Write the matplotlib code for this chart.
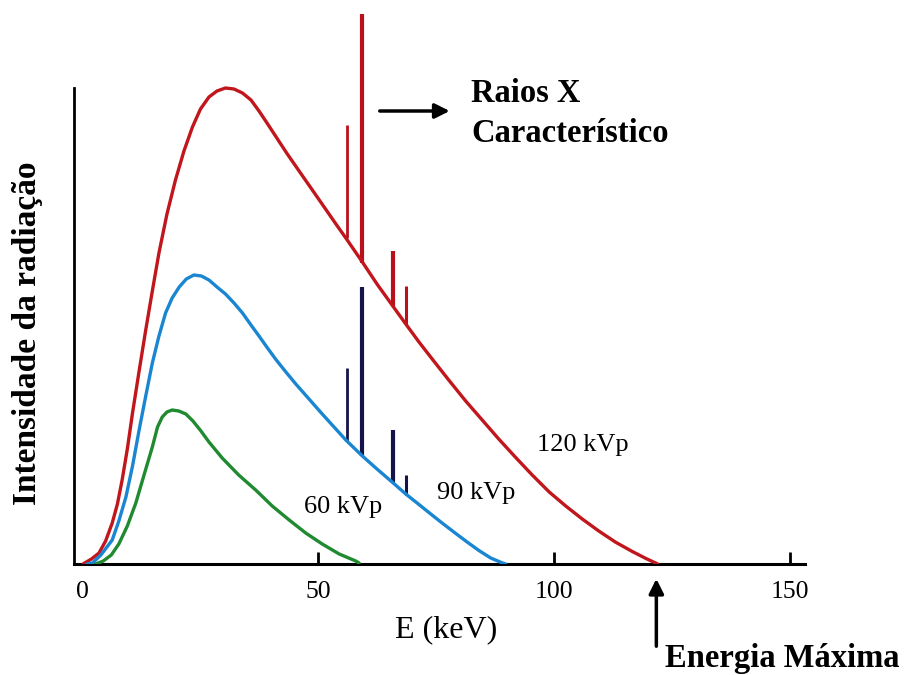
import numpy as np
import matplotlib
matplotlib.use("Agg")
import matplotlib.pyplot as plt

plt.rcParams['font.family'] = ['Liberation Serif', 'DejaVu Serif']

# espectro continuo (energia em keV, intensidade em unidades arbitrarias)
e120 = [0.2, 2.0, 3.6, 5.0, 6.4, 7.5, 8.5, 9.6, 10.7, 12.1, 13.5, 14.9, 16.3, 18.0,
        19.8, 21.6, 23.4, 25.1, 26.9, 28.6, 30.4, 32.2, 34.0, 35.8, 37.5, 39.2, 41.0,
        43.5, 46.0, 48.8, 51.6, 53.8, 55.9, 59.4, 62.5, 65.7, 68.6, 71.4, 74.2, 77.7,
        81.3, 84.8, 88.3, 91.8, 95.4, 99.0, 102.5, 106.0, 109.5, 113.0, 116.6, 119.5, 122.0]
i120 = [0, 5, 11, 23, 41, 60, 84, 115, 151, 193, 234, 273, 311, 350,
        384, 413, 437, 455, 467, 473, 476, 475, 471, 464, 453, 441, 428,
        410, 393, 374, 355, 340, 326, 302, 280, 259, 240, 222, 205, 184,
        163, 144, 125, 107, 89, 72, 58, 45, 33, 22, 12.5, 5.5, 0]

e90 = [1.0, 2.2, 4.0, 6.4, 7.8, 9.3, 10.7, 12.1, 13.5, 14.9, 16.3, 17.7, 19.1, 20.6,
       22.1, 23.7, 25.3, 26.9, 28.6, 30.4, 32.2, 34.0, 35.8, 37.5, 39.3, 41.0, 43.2,
       45.3, 48.1, 50.9, 53.4, 55.9, 59.4, 62.5, 65.7, 68.6, 71.0, 73.5, 76.3, 79.2,
       81.6, 84.1, 86.6, 89.1, 89.8]
i90 = [0, 1, 9, 24, 43, 67, 98, 134, 168, 201, 228, 251, 266, 277,
       285, 289, 288, 284, 277, 270, 261, 251, 239, 228, 216, 205, 192,
       180, 165, 150, 137, 124, 108, 95, 82, 70, 61, 51.5, 41, 30.5,
       22, 13.5, 6, 1, 0]

e60 = [2.9, 4.5, 6.2, 7.8, 9.6, 11.4, 13.2, 14.9, 16.0, 17.0, 18.0, 19.1, 20.5, 22.0,
       23.5, 25.2, 26.9, 29.7, 33.2, 36.8, 40.3, 43.9, 47.4, 50.9, 54.5, 58.0, 58.7]
i60 = [0, 3, 9, 20, 38, 61, 90, 117, 137, 147, 152, 154, 153, 150,
       143, 133, 122, 106, 89, 74, 58, 44, 31, 20, 10, 3, 1]

# linhas caracteristicas
lin_e = [56.1, 59.3, 65.9, 68.6]
lin_lw = [2.0, 3.0, 3.0, 2.2]
lin120_base = [326, 301, 258, 240]
lin120_topo = [439, 550, 313, 278]
lin90_base = [123, 108, 81, 69]
lin90_topo = [196, 277, 134, 89]

ticks = [0, 50, 100, 150]

fig = plt.figure(figsize=(9.08, 6.75), dpi=100)
ax = fig.add_axes([74 / 908, 111 / 675, 731 / 908, 564 / 675])

ax.plot(e120, i120, color='#c0161c', lw=2.4, solid_capstyle='round', zorder=3)
ax.plot(e90, i90, color='#1a86d2', lw=2.4, solid_capstyle='round', zorder=3)
ax.plot(e60, i60, color='#1f8a2f', lw=2.4, solid_capstyle='round', zorder=3)

ax.vlines(lin_e, lin120_base, lin120_topo, colors='#b8101c', linewidths=lin_lw, zorder=2)
ax.vlines(lin_e, lin90_base, lin90_topo, colors='#15144a', linewidths=lin_lw, zorder=2)

ax.set_xlim(-1.7, 153.2)
ax.set_ylim(0, 564)
ax.spines['top'].set_visible(False)
ax.spines['right'].set_visible(False)
ax.spines['left'].set_bounds(0, 476)
ax.spines['left'].set_linewidth(2.0)
ax.spines['bottom'].set_linewidth(2.2)
ax.set_yticks([])
ax.set_xticks(ticks)
ax.set_xticklabels([str(t) for t in ticks], fontsize=18.5)
ax.tick_params(axis='x', direction='in', length=9, width=2, pad=12)
ax.xaxis.get_major_ticks()[0].tick1line.set_visible(False)

ax.text(82.4, 471, 'Raios X', fontsize=23.5, fontweight='bold', ha='left', va='center')
ax.text(82.4, 431, 'Característico', fontsize=23.5, fontweight='bold', ha='left', va='center')
ax.annotate('', xy=(78.5, 453), xytext=(62.5, 453),
            arrowprops=dict(arrowstyle='-|>', lw=2.5, color='black', mutation_scale=22))

ax.text(106.2, 119, '120 kVp', fontsize=19, ha='center', va='center')
ax.text(83.5, 71, '90 kVp', fontsize=19, ha='center', va='center')
ax.text(55.3, 57, '60 kVp', fontsize=19, ha='center', va='center')

ax.annotate('', xy=(121.7, -12), xytext=(121.7, -85), annotation_clip=False,
            arrowprops=dict(arrowstyle='-|>', lw=2.5, color='black', mutation_scale=22))

fig.text(446 / 908, 1 - 630 / 675, 'E (keV)', fontsize=23, ha='center', va='center')
fig.text(665 / 908, 1 - 658 / 675, 'Energia Máxima', fontsize=23.5, fontweight='bold',
         ha='left', va='center')
fig.text(28 / 908, 1 - 333 / 675, 'Intensidade da radiação', fontsize=24, fontweight='bold',
         rotation=90, ha='center', va='center')

fig.savefig('out.png', dpi=100)
